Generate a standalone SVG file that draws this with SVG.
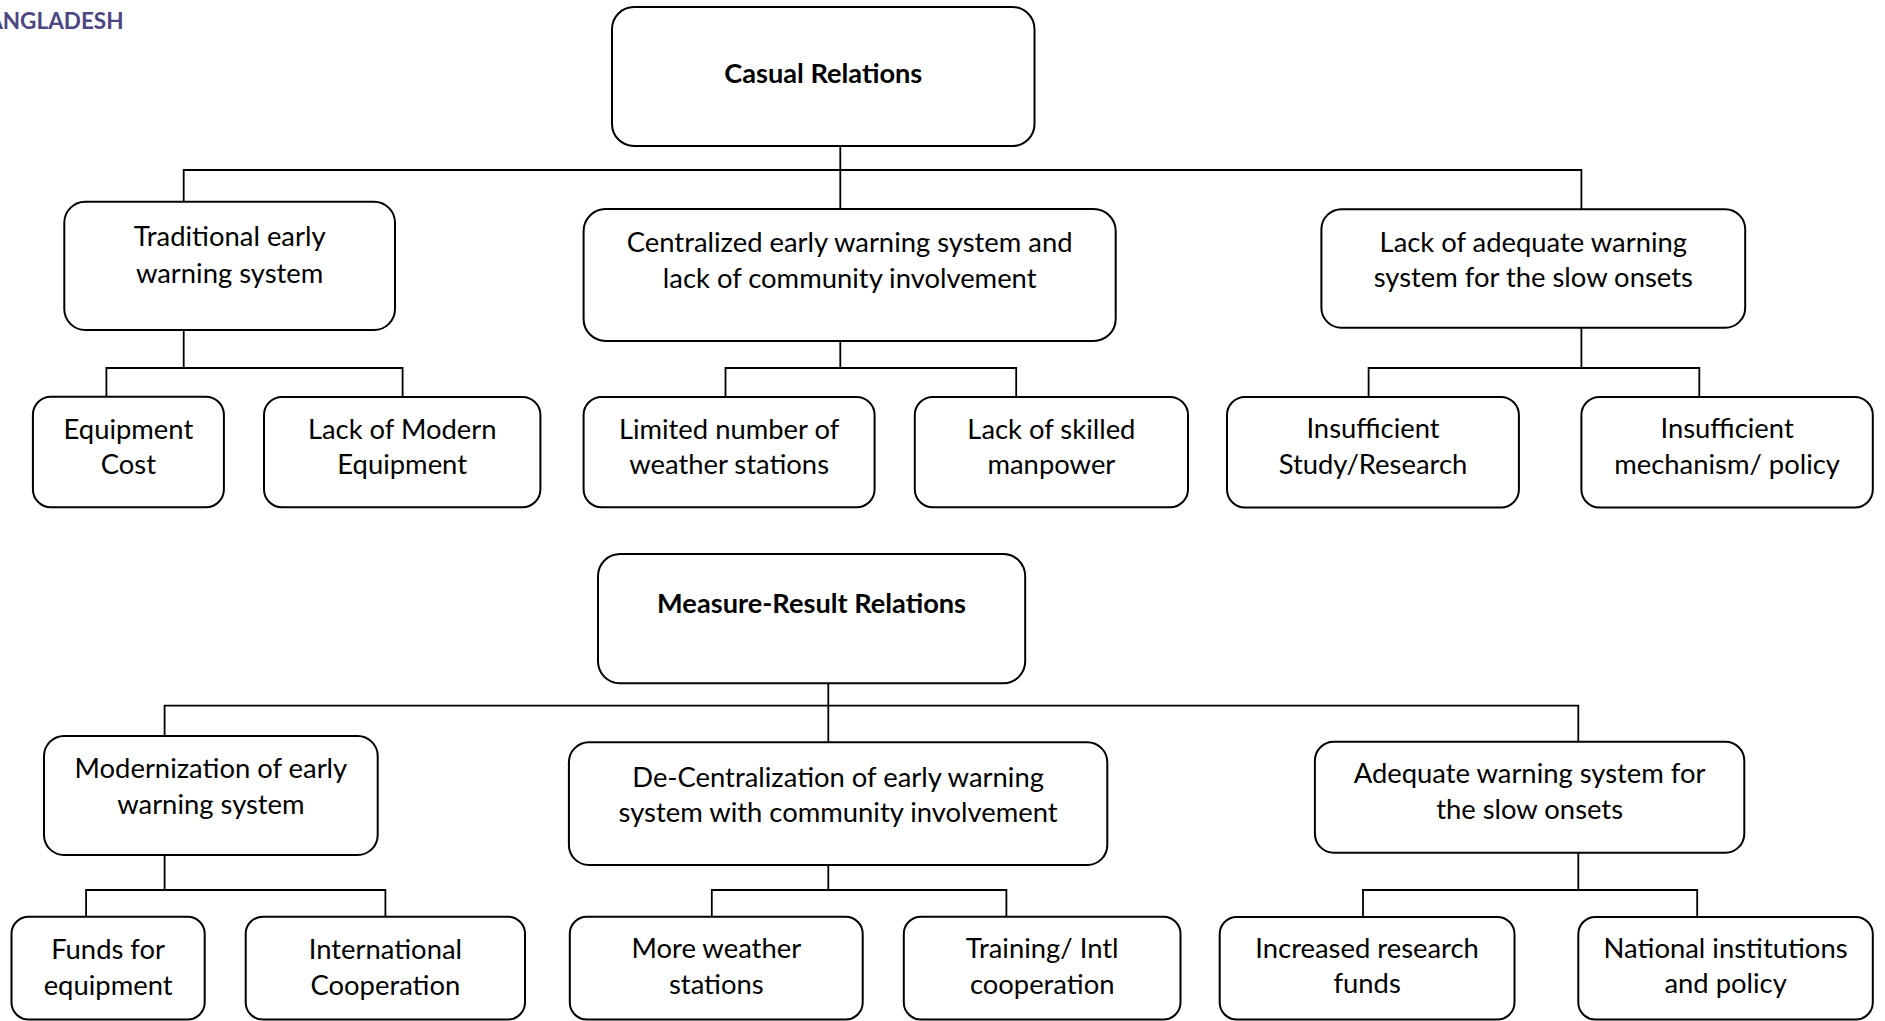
<svg xmlns="http://www.w3.org/2000/svg" width="1885" height="1021" viewBox="0 0 1885 1021">
<style>
.box{fill:#fff;stroke:#000;stroke-width:2}
.t{font-family:Lato,"Open Sans","Liberation Sans",sans-serif;font-size:27.4px;text-anchor:middle;fill:#000}
.b{font-weight:bold;font-size:27.2px}
.c{stroke:#000;stroke-width:1.8;fill:none}
.hdr{font-family:Lato,"Liberation Sans",sans-serif;font-size:22.5px;font-weight:bold;fill:#4b4682;text-anchor:end}
</style>
<rect width="1885" height="1021" fill="#fff"/>
<text class="hdr" x="123.5" y="28.5">ANGLADESH</text>
<g id="connectors">
<path class="c" d="M183.7,201.7V170H1581.4V209.3M840.3,146V209"/>
<path class="c" d="M183.7,330V368M106.4,396.7V368H402.6V397"/>
<path class="c" d="M840.3,341V368M725.5,397V368H1016.2V397"/>
<path class="c" d="M1581.4,327.7V368M1368.6,397V368H1699.3V397"/>
<path class="c" d="M164.6,736V705.7H1578.3V741.7M828.3,683.3V742.3"/>
<path class="c" d="M164.6,855V890M86.1,916.7V890H385.4V916.7"/>
<path class="c" d="M828.3,865V890M711.8,916.7V890H1006.4V916.7"/>
<path class="c" d="M1578.3,852.7V890M1363,917V890H1697.2V917"/>
</g>
<g id="casual">
<rect class="box" x="612" y="7" width="422.5" height="139" rx="22"/>
<text class="t b" x="823.3" y="82.5">Casual Relations</text>
</g>
<g id="traditional">
<rect class="box" x="64.3" y="201.7" width="330.7" height="128.3" rx="21"/>
<text class="t" x="229.6" y="246">Traditional early</text>
<text class="t" x="229.6" y="283">warning system</text>
</g>
<g id="centralized">
<rect class="box" x="583.6" y="209" width="532.1" height="132" rx="22"/>
<text class="t" x="849.7" y="252.3">Centralized early warning system and</text>
<text class="t" x="849.7" y="288.3">lack of community involvement</text>
</g>
<g id="lack-adequate">
<rect class="box" x="1321.4" y="209.3" width="423.8" height="118.4" rx="20"/>
<text class="t" x="1533.3" y="251.7">Lack of adequate warning</text>
<text class="t" x="1533.3" y="287.3">system for the slow onsets</text>
</g>
<g id="equipment-cost">
<rect class="box" x="32.9" y="396.7" width="191" height="110.6" rx="18"/>
<text class="t" x="128.4" y="438.5">Equipment</text>
<text class="t" x="128.4" y="473.5">Cost</text>
</g>
<g id="lack-modern">
<rect class="box" x="264" y="397" width="276.4" height="110.3" rx="18"/>
<text class="t" x="402.2" y="438.5">Lack of Modern</text>
<text class="t" x="402.2" y="473.5">Equipment</text>
</g>
<g id="limited-stations">
<rect class="box" x="583.6" y="397" width="291" height="110.3" rx="18"/>
<text class="t" x="729.1" y="438.5">Limited number of</text>
<text class="t" x="729.1" y="473.5">weather stations</text>
</g>
<g id="skilled-manpower">
<rect class="box" x="914.8" y="397" width="273.2" height="110.3" rx="18"/>
<text class="t" x="1051.4" y="438.5">Lack of skilled</text>
<text class="t" x="1051.4" y="473.5">manpower</text>
</g>
<g id="insufficient-study">
<rect class="box" x="1227" y="397" width="291.9" height="110.5" rx="18"/>
<text class="t" x="1373" y="438">Insufficient</text>
<text class="t" x="1373" y="473.5">Study/Research</text>
</g>
<g id="insufficient-mechanism">
<rect class="box" x="1581.4" y="397" width="291.4" height="110.5" rx="18"/>
<text class="t" x="1727.1" y="438">Insufficient</text>
<text class="t" x="1727.1" y="473.5">mechanism/ policy</text>
</g>
<g id="measure">
<rect class="box" x="598" y="554" width="427.2" height="129.3" rx="22"/>
<text class="t b" x="811.6" y="613.3">Measure-Result Relations</text>
</g>
<g id="modernization">
<rect class="box" x="44" y="736" width="333.7" height="119" rx="20"/>
<text class="t" x="210.9" y="778.3">Modernization of early</text>
<text class="t" x="210.9" y="814.3">warning system</text>
</g>
<g id="decentralization">
<rect class="box" x="568.9" y="742.3" width="538.4" height="122.7" rx="20"/>
<text class="t" x="838.1" y="786.7">De-Centralization of early warning</text>
<text class="t" x="838.1" y="821.7">system with community involvement</text>
</g>
<g id="adequate">
<rect class="box" x="1314.9" y="741.7" width="429.4" height="111" rx="19"/>
<text class="t" x="1529.6" y="783.3">Adequate warning system for</text>
<text class="t" x="1529.6" y="819.3">the slow onsets</text>
</g>
<g id="funds-equipment">
<rect class="box" x="11.5" y="916.7" width="193.2" height="102.8" rx="17"/>
<text class="t" x="108.1" y="959.3">Funds for</text>
<text class="t" x="108.1" y="995">equipment</text>
</g>
<g id="intl-cooperation">
<rect class="box" x="245.7" y="916.7" width="279.3" height="102.8" rx="17"/>
<text class="t" x="385.4" y="959.3">International</text>
<text class="t" x="385.4" y="995">Cooperation</text>
</g>
<g id="more-stations">
<rect class="box" x="569.8" y="916.7" width="292.9" height="102.8" rx="17"/>
<text class="t" x="716.3" y="958.3">More weather</text>
<text class="t" x="716.3" y="994">stations</text>
</g>
<g id="training">
<rect class="box" x="903.8" y="916.7" width="276.7" height="102.8" rx="17"/>
<text class="t" x="1042.2" y="958.3">Training/ Intl</text>
<text class="t" x="1042.2" y="994">cooperation</text>
</g>
<g id="research-funds">
<rect class="box" x="1219.7" y="917" width="294.8" height="102.5" rx="17"/>
<text class="t" x="1367.1" y="958.3">Increased research</text>
<text class="t" x="1367.1" y="993.3">funds</text>
</g>
<g id="national-institutions">
<rect class="box" x="1578.3" y="917" width="294.5" height="102.5" rx="17"/>
<text class="t" x="1725.6" y="958.3">National institutions</text>
<text class="t" x="1725.6" y="993.3">and policy</text>
</g>
</svg>
